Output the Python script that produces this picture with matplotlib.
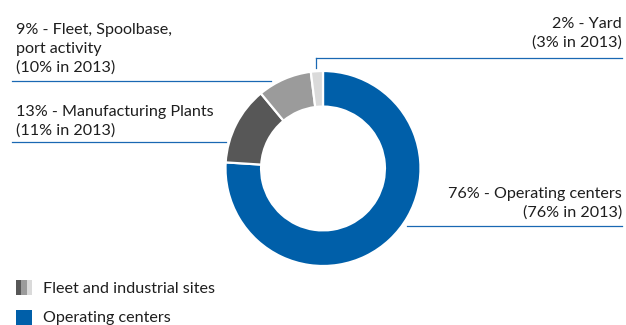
import matplotlib.pyplot as plt
from matplotlib.patches import Rectangle

# share of workforce by site type, clockwise from 12 o'clock
sites = ["Operating centers", "Manufacturing Plants", "Fleet, Spoolbase,\nport activity", "Yard"]
share_2014 = [76, 13, 9, 2]
share_2013 = [76, 11, 10, 3]
colors = ["#005fa9", "#575757", "#9b9b9b", "#dadada"]

BLUE_LINE = "#1a68b3"
TEXT = "#1e1e1e"

W, H = 626, 325
fig = plt.figure(figsize=(W / 100, H / 100), dpi=100)
ax = fig.add_axes([0, 0, 1, 1])
plt.rcParams["font.family"] = ["Lato", "DejaVu Sans"]


def y(py):
    # convert a top-down pixel row to data y
    return H - py


cx, cy, r = 323, y(168.5), 97.5
ax.pie(share_2014, colors=colors, startangle=90, counterclock=False,
       center=(cx, cy), radius=r,
       wedgeprops=dict(width=r * 0.365, edgecolor="white", linewidth=1.6))
ax.set_xlim(0, W)
ax.set_ylim(0, H)
ax.set_aspect("equal")
ax.axis("off")

fs = 11.6

def label(i, x, py, ha):
    txt = f"{share_2014[i]}% - {sites[i]}\n({share_2013[i]}% in 2013)"
    ax.text(x, y(py), txt, ha=ha, va="baseline", fontsize=fs, color=TEXT,
            linespacing=1.42, multialignment=ha)


# labels (baseline of the last line given)
label(2, 16, 72, "left")
label(1, 16, 135, "left")
label(3, 622, 47, "right")
label(0, 622, 217, "right")

# leader lines
lw = 0.9
ax.plot([12, 271], [y(81), y(81)], color=BLUE_LINE, lw=lw)
ax.plot([12, 226], [y(142), y(142)], color=BLUE_LINE, lw=lw)
ax.plot([316, 622], [y(57.5), y(57.5)], color=BLUE_LINE, lw=lw)
ax.plot([316, 316], [y(57.5), y(68)], color=BLUE_LINE, lw=lw)
ax.plot([407, 622], [y(225.5), y(225.5)], color=BLUE_LINE, lw=lw)

# legend swatches
sw = 16
for k, c in enumerate(colors[1:]):
    ax.add_patch(Rectangle((16 + k * sw / 3, y(295)), sw / 3, 15, color=c, lw=0))
ax.add_patch(Rectangle((16, y(325)), sw, 15.5, color=colors[0], lw=0))
ax.text(43, y(293), "Fleet and industrial sites", fontsize=fs, color=TEXT, va="baseline")
ax.text(43, y(322), "Operating centers", fontsize=fs, color=TEXT, va="baseline")

fig.savefig("out.png", dpi=100)
